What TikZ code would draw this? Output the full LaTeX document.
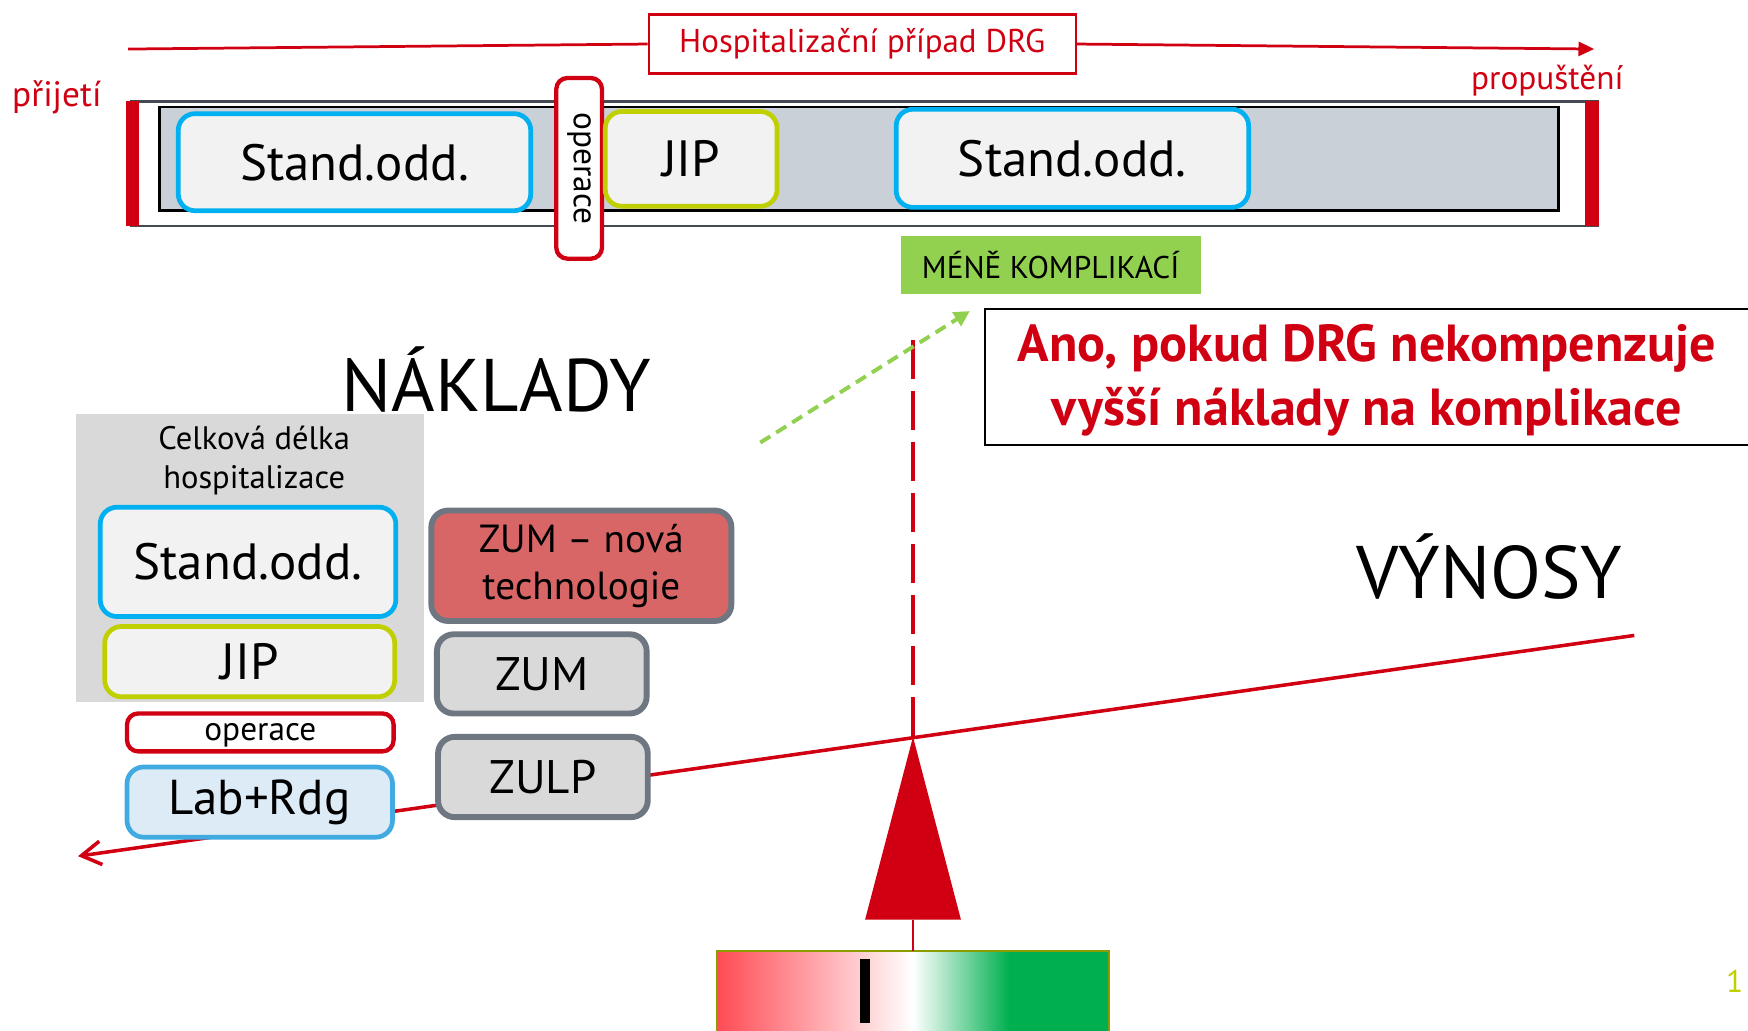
\documentclass[tikz,border=0pt]{standalone}
\usepackage{fontspec}
\setmainfont{PT Sans}
\usepackage{tikz}
\usetikzlibrary{arrows.meta,positioning,calc}
\definecolor{drgred}{RGB}{208,0,18}
\definecolor{wardcyan}{RGB}{0,176,240}
\definecolor{icuyellow}{RGB}{192,207,0}
\definecolor{boxfill}{RGB}{242,242,242}
\definecolor{bargray}{RGB}{202,208,215}
\definecolor{barframe}{RGB}{68,74,84}
\definecolor{costfill}{RGB}{217,217,217}
\definecolor{costframe}{RGB}{110,118,130}
\definecolor{zumred}{RGB}{217,102,102}
\definecolor{labfill}{RGB}{221,235,247}
\definecolor{labframe}{RGB}{65,170,225}
\definecolor{lessgreen}{RGB}{146,208,80}
\definecolor{gaugered}{RGB}{255,75,85}
\definecolor{gaugegreen}{RGB}{0,176,80}
\definecolor{gaugeframe}{RGB}{140,155,0}
\newcommand{\fsz}[2]{\fontsize{#1}{#2}\selectfont}

\begin{document}
\begin{tikzpicture}[x=0.01cm, y=-0.01cm,
  ward/.style={draw, rounded corners=1.5mm, line width=1.2pt, fill=boxfill,
    align=center, inner sep=0pt, font=\fsz{13}{15}},
  stand/.style={ward, draw=wardcyan},
  icu/.style={ward, draw=icuyellow},
  opbox/.style={draw=drgred, fill=white, rounded corners=1mm, line width=1.1pt,
    inner sep=0pt, font=\fsz{8.5}{10}},
  costbox/.style={draw=costframe, fill=costfill, rounded corners=1.5mm,
    line width=1.5pt, inner sep=0pt, align=center, font=\fsz{12}{14}},
  bigword/.style={font=\fsz{19}{22}},
  redtxt/.style={text=drgred, font=\fsz{8.5}{10}},
  tline/.style={drgred, line width=0.7pt},
  beam/.style={drgred, line width=0.9pt},
]
  \useasboundingbox (0,0) rectangle (1568,924);

  % casova osa hospitalizace
  \coordinate (tstart) at (115,44);
  \coordinate (tend) at (1430,44);
  \node[draw=drgred, line width=0.6pt, fill=white, minimum width=3.83cm,
    minimum height=0.53cm, redtxt, font=\fsz{8.4}{10}] (hosp) at (773.5,39.5)
    {Hospitalizační případ DRG};
  \draw[tline] (tstart) -- (hosp.west);
  \draw[tline, -{Triangle[length=4pt, width=3.6pt]}] (hosp.east) -- (tend);
  \node[redtxt, font=\fsz{9}{10}] (admit) at (51,87) {přijetí};
  \node[redtxt] (discharge) at (1388,72) {propuštění};

  \draw[barframe, line width=0.6pt, fill=white] (118,91) rectangle (1433,203);
  \fill[drgred] (113,91) rectangle (125,203);
  \fill[drgred] (1422,91) rectangle (1434,203);
  \draw[black, line width=0.7pt, fill=bargray] (143,96) rectangle (1398,189);

  \node[stand, minimum width=3.16cm, minimum height=0.87cm] (std1)
    at (318,145.5) {Stand.odd.};
  \node[opbox, rotate=-90, minimum width=1.62cm, minimum height=0.41cm] (opv)
    at (519.5,151) {operace};
  \node[icu, minimum width=1.54cm, minimum height=0.85cm] (jip1)
    at (620,142.5) {JIP};
  \node[stand, minimum width=3.16cm, minimum height=0.88cm] (std2)
    at (962,142) {Stand.odd.};

  \node[fill=lessgreen, minimum width=2.69cm, minimum height=0.52cm,
    font=\fsz{8}{9}] (less) at (942.5,238) {MÉNĚ KOMPLIKACÍ};

  \node[draw=black, line width=0.6pt, fill=white, minimum width=6.96cm,
    minimum height=1.22cm] (anobox) at (1232,338) {};
  \node[text=drgred, align=center, font=\bfseries\fsz{13.3}{16.2}] (ano)
    at (1226,341) {Ano, pokud DRG nekompenzuje\\vyšší náklady na komplikace};

  \node[bigword] (costs) at (445,340) {NÁKLADY};
  \node[bigword] (revenue) at (1336,508) {VÝNOSY};

  % vahy
  \coordinate (beamR) at (1466,570);
  \coordinate (beamL) at (70,768);
  \coordinate (pivot) at (819,661);
  \coordinate (dashtop) at (819,305);
  \coordinate (greenfoot) at (682,397);
  \coordinate (greentip) at (870,279);
  \draw[beam, -{Straight Barb[length=5pt, width=6pt]}] (beamR) -- (beamL);
  \draw[drgred, line width=0.85pt, dash pattern=on 10pt off 3pt]
    (dashtop) -- (pivot);
  \draw[lessgreen, line width=1pt, dash pattern=on 3pt off 1.8pt,
    -{Triangle[length=4pt, width=4pt]}] (greenfoot) -- (greentip);

  \fill[drgred] (pivot) -- (776,825) -- (862,825) -- cycle;

  % naklady
  \fill[costfill] (68,371) rectangle (380,630);
  \node[align=center, font=\fsz{8.3}{10}] (total) at (228,413)
    {Celková délka\\hospitalizace};
  \node[stand, minimum width=2.65cm, minimum height=0.98cm] (std3)
    at (222.5,504) {Stand.odd.};
  \node[icu, minimum width=2.60cm, minimum height=0.63cm] (jip2)
    at (224,593.5) {JIP};
  \node[opbox, minimum width=2.39cm, minimum height=0.34cm, text depth=0pt]
    (op2) at (233.5,657) {operace};
  \node[ward, draw=labframe, fill=labfill, minimum width=2.38cm,
    minimum height=0.63cm, font=\fsz{12.5}{14}] (lab) at (233,719.5) {Lab+Rdg};
  \node[costbox, fill=zumred, minimum width=2.69cm, minimum height=0.99cm,
    font=\fsz{10}{12}] (zumnew) at (521.5,507.5) {ZUM -- nová\\technologie};
  \node[costbox, minimum width=1.88cm, minimum height=0.71cm] (zum)
    at (486,604.5) {ZUM};
  \node[costbox, minimum width=1.88cm, minimum height=0.72cm] (zulp)
    at (487,697) {ZULP};

  % ukazatel
  \coordinate (gbase) at (819,825);
  \fill[left color=gaugered, right color=white] (643,853) rectangle (819,930);
  \fill[left color=white, right color=gaugegreen] (819,853) rectangle (905,930);
  \fill[gaugegreen] (905,853) rectangle (995,930);
  \draw[gaugeframe, line width=0.6pt] (643,853) rectangle (995,930);
  \coordinate (gtop) at (819,853);
  \draw[drgred, line width=0.7pt] (gbase) -- (gtop);
  \fill[black] (771,860) rectangle (780,918);

  \node[text=icuyellow, font=\fsz{8}{9}] (pagenum) at (1556,880) {1};
\end{tikzpicture}
\end{document}
